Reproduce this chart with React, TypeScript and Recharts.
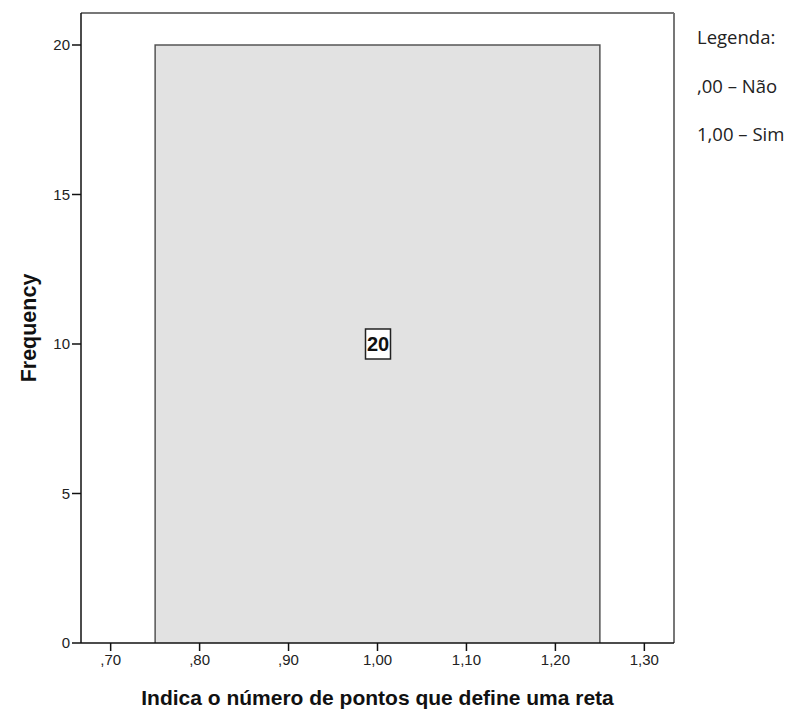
import React from "react";
import {
  ComposedChart,
  Area,
  Scatter,
  XAxis,
  YAxis,
  Label,
  ReferenceLine,
} from "recharts";

// histogram bins (one bin only)
const binStarts = [0.75];
const binEnds = [1.25];
const counts = [20];

const xTicks = [0.7, 0.8, 0.9, 1.0, 1.1, 1.2, 1.3];
const yTicks = [0, 5, 10, 15, 20];
const xDomain = [2 / 3, 4 / 3];
const yDomain = [0, 21.07];

const legendLines = ["Legenda:", ",00 – Não", "1,00 – Sim"];

const tickFont = "'Liberation Sans', Arial, sans-serif";
const boldFont = "'Liberation Sans', Arial, sans-serif";

// outline of each bin as points so the area is a closed rectangle
const histData = binStarts.flatMap((s, i) => [
  { x: s, y: 0 },
  { x: s, y: counts[i] },
  { x: binEnds[i], y: counts[i] },
  { x: binEnds[i], y: 0 },
]);

const labelData = binStarts.map((s, i) => ({
  x: (s + binEnds[i]) / 2,
  y: counts[i] / 2,
  count: counts[i],
}));

const fmtX = (v: number) => {
  const s = v.toFixed(2).replace(".", ",");
  return s.startsWith("0") ? s.slice(1) : s;
};

const CountBox = (props: any) => {
  const { cx, cy, payload } = props;
  if (cx == null || cy == null) return null;
  return (
    <g>
      <rect x={cx - 12} y={cy - 15} width={25} height={30} fill="#fff" stroke="#222" strokeWidth={1.5} />
      <text
        x={cx + 0.5}
        y={cy + 7}
        textAnchor="middle"
        fontFamily={tickFont}
        fontWeight="bold"
        fontSize={20}
        fill="#111"
      >
        {payload.count}
      </text>
    </g>
  );
};

export default function App() {
  return (
    <div style={{ position: "absolute", left: 0, top: 0, width: 799, height: 710, background: "#fff" }}>
      <ComposedChart
        width={799}
        height={710}
        data={histData}
        margin={{ top: 13, right: 125, bottom: 0, left: 0 }}
      >
        <XAxis
          dataKey="x"
          type="number"
          domain={xDomain}
          ticks={xTicks}
          tickFormatter={fmtX}
          allowDataOverflow
          height={67}
          tickSize={8}
          tickMargin={3}
          axisLine={{ stroke: "#111", strokeWidth: 1.5 }}
          tickLine={{ stroke: "#111", strokeWidth: 1.5 }}
          tick={{ fill: "#222", fontSize: 15, fontFamily: tickFont }}
        >
          <Label
            value="Indica o número de pontos que define uma reta"
            position="insideBottom"
            offset={5}
            style={{ fill: "#111", fontSize: 21, fontWeight: "bold", fontFamily: boldFont }}
          />
        </XAxis>
        <YAxis
          dataKey="y"
          type="number"
          domain={yDomain}
          ticks={yTicks}
          allowDataOverflow
          width={81}
          tickSize={9}
          tickMargin={2}
          axisLine={{ stroke: "#111", strokeWidth: 1.5 }}
          tickLine={{ stroke: "#111", strokeWidth: 1.5 }}
          tick={{ fill: "#222", fontSize: 15, fontFamily: tickFont }}
        >
          <Label
            value="Frequency"
            angle={-90}
            position="insideLeft"
            offset={28}
            style={{ textAnchor: "middle", fill: "#111", fontSize: 21.5, fontWeight: "bold", fontFamily: boldFont }}
          />
        </YAxis>
        <ReferenceLine y={yDomain[1]} stroke="#777" strokeWidth={2} ifOverflow="extendDomain" />
        <ReferenceLine x={xDomain[1]} stroke="#777" strokeWidth={2} ifOverflow="extendDomain" />
        <Area
          dataKey="y"
          type="linear"
          fill="#e2e2e2"
          fillOpacity={1}
          stroke="#555"
          strokeWidth={1.5}
          baseValue={0}
          dot={false}
          activeDot={false}
          isAnimationActive={false}
        />
        <Scatter data={labelData} dataKey="y" shape={<CountBox />} isAnimationActive={false} />
        {legendLines.map((t, i) => (
          <text
            key={t}
            x={697}
            y={44 + i * 48.5}
            fontFamily="'Open Sans', Lato, sans-serif"
            fontSize={18.5}
            fill="#222"
          >
            {t}
          </text>
        ))}
      </ComposedChart>
    </div>
  );
}
